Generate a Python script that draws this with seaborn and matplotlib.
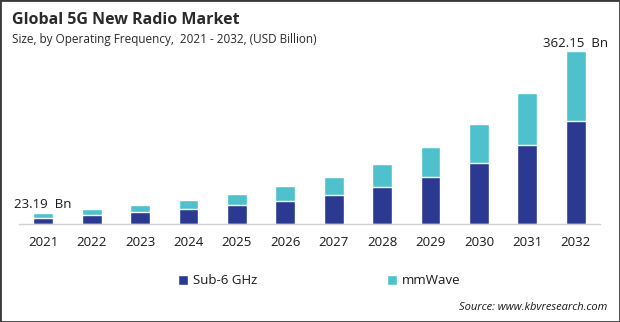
import matplotlib
matplotlib.use("Agg")
import matplotlib.pyplot as plt
import seaborn as sns
import pandas as pd
import numpy as np
from matplotlib.patches import Patch, Rectangle

years = ["2021", "2022", "2023", "2024", "2025", "2026", "2027", "2028", "2029", "2030", "2031", "2032"]
sub6 = [12.6, 19.5, 25.1, 31.4, 39.8, 48.1, 60.7, 77.5, 98.4, 127.7, 165.4, 215.6]
mmwave = [10.59, 11.9, 14.7, 18.8, 23.0, 31.4, 37.7, 48.5, 63.4, 81.3, 109.5, 146.55]
first_label = "23.19  Bn"
last_label = "362.15  Bn"

navy = "#2B3990"
teal = "#4EC1CD"

sns.set_theme(style="white")
plt.rcParams['font.family'] = ['Open Sans', 'DejaVu Sans']

df = pd.DataFrame({"year": years, "sub6": sub6, "mmwave": mmwave})
df["total"] = df["sub6"] + df["mmwave"]

W, H = 620, 322
fig = plt.figure(figsize=(W / 100, H / 100), dpi=100)
ax = fig.add_axes([19 / W, (H - 224) / H, (600 - 19) / W, (224 - 30) / H])

sns.barplot(data=df, x="year", y="total", color=teal, width=0.41, ax=ax, saturation=1)
sns.barplot(data=df, x="year", y="sub6", color=navy, width=0.41, ax=ax, saturation=1)

ax.set_xlim(-0.5, 11.5)
ax.set_ylim(0, 406)
ax.set_xlabel("")
ax.set_ylabel("")
ax.set_yticks([])
for s in ["top", "right", "left"]:
    ax.spines[s].set_visible(False)
ax.spines["bottom"].set_color("#D0D0D0")
ax.spines["bottom"].set_linewidth(1.0)
ax.tick_params(axis="x", length=0, pad=9, labelsize=9.5, labelcolor="#1a1a1a")

totals = df["total"].tolist()
ax.text(0, totals[0] + 3, first_label, ha="center", va="bottom", fontsize=9.5, color="#1a1a1a")
ax.text(11, totals[-1] + 3, last_label, ha="center", va="bottom", fontsize=9.5, color="#1a1a1a")

fig.text(12 / W, 1 - 20 / H, "Global 5G New Radio Market", fontsize=11.5, fontweight="bold",
         color="#2a2a2a", va="center", ha="left")
fig.text(12 / W, 1 - 40 / H, "Size, by Operating Frequency,  2021 - 2032, (USD Billion)", fontsize=8.5,
         color="#2a2a2a", va="center", ha="left")

handles = [Patch(facecolor=navy, label="Sub-6 GHz"), Patch(facecolor=teal, label="mmWave")]
fig.legend(handles=handles, loc="center left", bbox_to_anchor=(178 / W, 1 - 281 / H), ncol=2,
           frameon=False, fontsize=9.5, handlelength=0.75, handleheight=0.75, handletextpad=0.4,
           columnspacing=9.8, labelcolor="#1a1a1a", borderpad=0, borderaxespad=0)

fig.text(607 / W, 1 - 307 / H, "Source: www.kbvresearch.com", fontsize=8, style="italic",
         color="#1a1a1a", ha="right", va="center")

fig.patches.append(Rectangle((0, 0), 1, 1, transform=fig.transFigure, fill=False,
                             edgecolor="#3a3a3a", linewidth=2.0))

fig.savefig("out.png", dpi=100)
